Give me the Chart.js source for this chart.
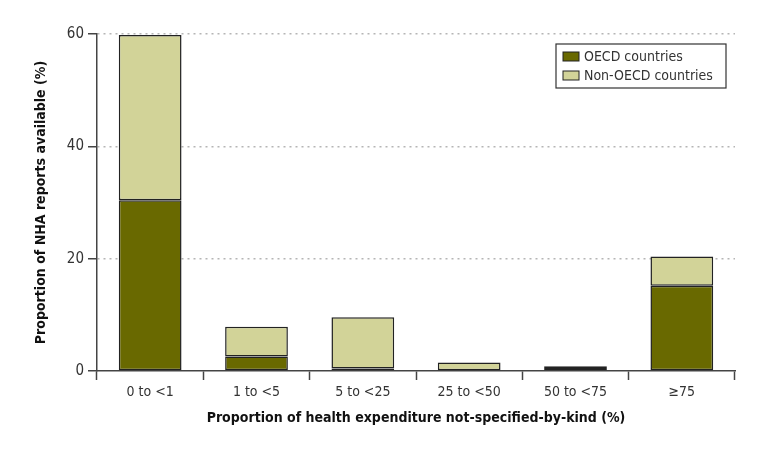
<!DOCTYPE html>
<html lang="en">
  <head>
    <meta charset="UTF-8" />
    <title>NHA reports by share not-specified-by-kind</title>
    <script src="https://cdn.jsdelivr.net/npm/chart.js"></script>
    <style>
      html, body { margin: 0; padding: 0; background: #fff; }
      #wrap { width: 771px; height: 454px; position: relative; }
    </style>
  </head>
  <body>
    <div id="wrap"><canvas id="nhaChart"></canvas></div>

    <script>
      // data
      const categories = ["0 to <1", "1 to <5", "5 to <25", "25 to <50", "50 to <75", "\u226575"];
      const oecdValues = [30.4, 2.6, 0.45, 0, 0.55, 15.2];
      const nonOecdValues = [29.4, 5.3, 9.1, 1.5, 0.3, 5.2];
      const yTicks = [0, 20, 40, 60];

      const FONT = "'DejaVu Sans Condensed', 'Liberation Sans Narrow', sans-serif";

      // legend drawn inside the plot, top right
      const boxLegend = {
        id: "boxLegend",
        afterDraw(chart) {
          const ctx = chart.ctx;
          const x = 556, y = 44, w = 170, h = 44;
          ctx.save();
          ctx.fillStyle = "#fff";
          ctx.fillRect(x, y, w, h);
          ctx.strokeStyle = "#333";
          ctx.lineWidth = 1.2;
          ctx.strokeRect(x, y, w, h);
          ctx.font = "14px " + FONT;
          ctx.textBaseline = "middle";
          chart.data.datasets.forEach((ds, i) => {
            const cy = y + 12 + i * 19;
            ctx.fillStyle = ds.backgroundColor;
            ctx.fillRect(x + 7, cy - 4, 16, 9);
            ctx.strokeStyle = "#222";
            ctx.lineWidth = 1;
            ctx.strokeRect(x + 7, cy - 4, 16, 9);
            ctx.fillStyle = "#333";
            ctx.fillText(ds.label, x + 28, cy + 1);
          });
          ctx.restore();
        },
      };

      const ctx = document.getElementById("nhaChart").getContext("2d");
      new Chart(ctx, {
        type: "bar",
        data: {
          labels: categories,
          datasets: [
            {
              label: "OECD countries",
              data: oecdValues,
              backgroundColor: "#696900",
              borderColor: "#222",
              borderWidth: 1.5,
              borderSkipped: false,
            },
            {
              label: "Non-OECD countries",
              data: nonOecdValues,
              backgroundColor: "#d2d398",
              borderColor: "#222",
              borderWidth: 1.5,
              borderSkipped: false,
            },
          ],
        },
        options: {
          responsive: true,
          maintainAspectRatio: false,
          animation: false,
          layout: { padding: { top: 34, right: 36, bottom: 27, left: 33 } },
          datasets: { bar: { categoryPercentage: 1, barPercentage: 0.59 } },
          plugins: { legend: { display: false }, tooltip: { enabled: false } },
          scales: {
            x: {
              stacked: true,
              offset: true,
              afterFit(scale) { scale.height = 56; },
              grid: {
                offset: true,
                drawOnChartArea: false,
                drawTicks: true,
                tickLength: 9,
                tickColor: "#444",
                tickWidth: 1.5,
              },
              border: { display: true, color: "#444", width: 1.5 },
              ticks: {
                color: "#333",
                padding: 4,
                font: { family: FONT, size: 14 },
              },
              title: {
                display: true,
                text: "Proportion of health expenditure not-specified-by-kind (%)",
                color: "#111",
                padding: { top: 0, bottom: 0 },
                font: { family: FONT, size: 14, weight: "bold" },
              },
            },
            y: {
              stacked: true,
              min: 0,
              max: 60,
              afterFit(scale) { scale.width = 64; },
              afterBuildTicks(scale) {
                scale.ticks = yTicks.map((v) => ({ value: v }));
              },
              grid: {
                color: (c) => (c.tick && c.tick.value === 0 ? "rgba(0,0,0,0)" : "#b5b5b5"),
                lineWidth: 1.5,
                drawTicks: true,
                tickLength: 9,
                tickColor: "#444",
                tickWidth: 1.5,
              },
              border: { display: true, color: "#444", width: 1.5, dash: [2, 4] },
              ticks: {
                color: "#333",
                padding: 4,
                font: { family: FONT, size: 15 },
              },
              title: {
                display: true,
                text: "Proportion of NHA reports available (%)",
                color: "#111",
                padding: { top: 0, bottom: 0 },
                font: { family: FONT, size: 14, weight: "bold" },
              },
            },
          },
        },
        plugins: [boxLegend],
      });
    </script>
  </body>
</html>
